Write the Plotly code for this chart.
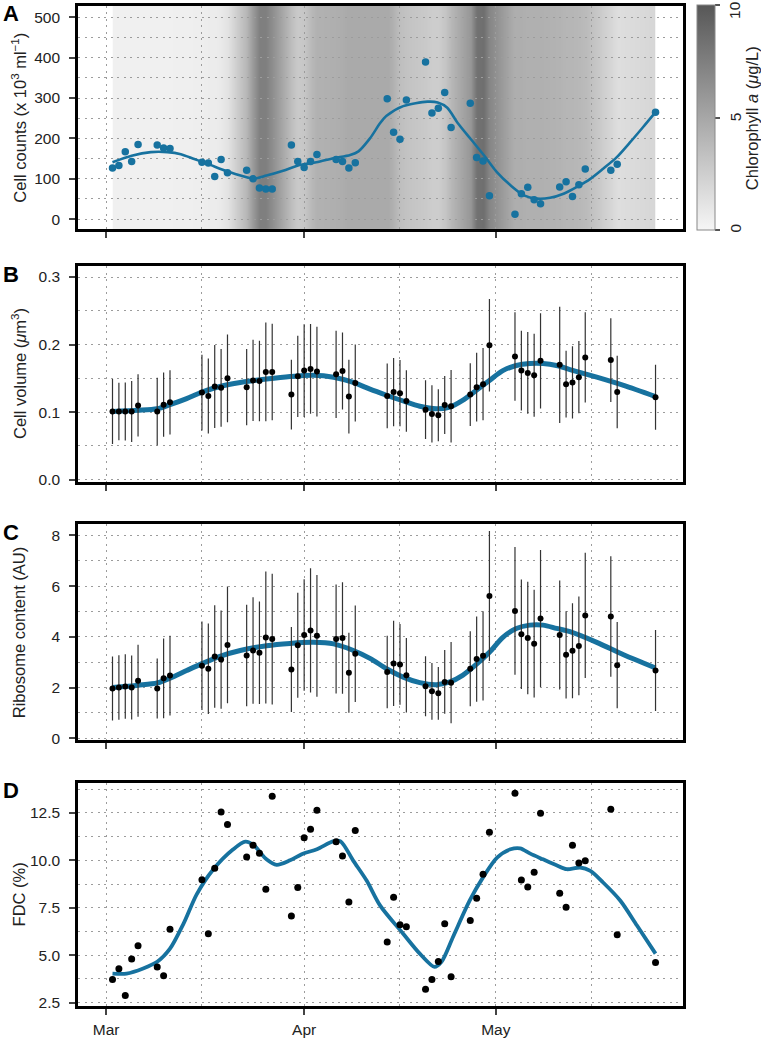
import plotly.graph_objects as go

# ---------------- data (x = days since 1 March) ----------------
days = [1, 2, 3, 4, 5, 8, 9, 10, 15, 16, 17, 18, 19, 22, 23, 24, 25, 26,
        29, 30, 31, 32, 33, 36, 37, 38, 39, 44, 45, 46, 47, 50, 51, 52, 53, 54,
        57, 58, 59, 60, 64, 65, 66, 67, 68, 71, 72, 73, 74, 75, 79, 80, 86]

cell_counts = [127, 133, 167, 143, 185, 184, 176, 175, 141, 139, 106, 148, 115,
               121, 100, 77, 75, 75, 184, 143, 128, 143, 160, 148, 143, 127, 140,
               298, 215, 198, 295, 389, 263, 275, 314, 227, 287, 153, 144, 58,
               12, 63, 79, 48, 38, 80, 93, 56, 85, 124, 121, 136, 265]

chlorophyll = [0.4, 0.4, 0.4, 0.4, 0.4, 0.4, 0.4, 0.4, 0.5, 0.6, 0.6, 0.8, 1.2,
               4.0, 6.0, 7.5, 7.5, 6.5, 3.5, 2.8, 3.0, 3.8, 4.3, 4.5, 4.6, 4.8, 4.8,
               4.8, 4.3, 3.5, 3.2, 2.8, 2.6, 2.6, 3.0, 4.0, 6.0, 8.3, 8.5, 7.0,
               4.5, 4.5, 4.4, 4.4, 4.4, 4.2, 4.0, 4.0, 3.9, 3.7, 2.0, 1.5, 2.0]

cell_volume = [0.101, 0.101, 0.101, 0.101, 0.110, 0.101, 0.111, 0.1145, 0.129, 0.124,
               0.138, 0.136, 0.150, 0.137, 0.147, 0.146, 0.1595, 0.1595, 0.126, 0.153,
               0.1615, 0.164, 0.160, 0.156, 0.161, 0.123, 0.143, 0.124, 0.1297, 0.128,
               0.1165, 0.1037, 0.0974, 0.0954, 0.1106, 0.1087, 0.126, 0.137, 0.1414,
               0.199, 0.1825, 0.1615, 0.158, 0.1546, 0.176, 0.170, 0.1414, 0.144,
               0.1517, 0.181, 0.177, 0.1297, 0.122]
cell_volume_sd = [0.048, 0.0425, 0.043, 0.045, 0.046, 0.050, 0.0475, 0.0475, 0.056,
                  0.0555, 0.0615, 0.0575, 0.065, 0.0565, 0.060, 0.0595, 0.073, 0.0715,
                  0.0515, 0.060, 0.0685, 0.0665, 0.0665, 0.0645, 0.057, 0.0545, 0.057,
                  0.048, 0.0505, 0.049, 0.0455, 0.0435, 0.0425, 0.0385, 0.043, 0.0535,
                  0.0465, 0.051, 0.0535, 0.0685, 0.0655, 0.059, 0.0605, 0.0615, 0.0705,
                  0.086, 0.0495, 0.0535, 0.0535, 0.0668, 0.0618, 0.0537, 0.048]

ribosome = [1.96, 2.0, 2.04, 2.0, 2.27, 1.96, 2.36, 2.47, 2.86, 2.74, 3.22, 3.10, 3.68,
            3.26, 3.46, 3.37, 3.97, 3.91, 2.71, 3.67, 4.07, 4.25, 4.04, 3.91, 3.95,
            2.58, 3.33, 2.61, 2.95, 2.91, 2.48, 2.05, 1.85, 1.77, 2.22, 2.19, 2.74,
            3.12, 3.25, 5.61, 5.02, 4.10, 3.95, 3.73, 4.72, 4.07, 3.29, 3.45, 3.64,
            4.84, 4.80, 2.88, 2.67]
ribosome_sd = [1.265, 1.27, 1.27, 1.265, 1.42, 1.185, 1.57, 1.57, 1.745, 1.785, 2.02,
               1.935, 2.30, 2.0, 2.1, 2.02, 2.6, 2.58, 1.68, 2.07, 2.2, 2.45, 2.4,
               2.15, 2.2, 1.58, 1.9, 1.43, 1.68, 1.59, 1.47, 1.18, 1.12, 1.04, 1.26,
               1.6, 1.48, 1.68, 1.76, 2.56, 2.52, 2.16, 2.22, 2.12, 2.7, 2.15, 1.72,
               1.87, 1.95, 2.47, 2.38, 1.7, 1.6]

fdc = [3.72, 4.28, 2.87, 4.80, 5.5, 4.38, 3.91, 6.37, 8.97, 6.13, 9.58, 12.55, 11.89,
       10.18, 10.80, 10.37, 8.47, 13.37, 7.06, 8.57, 11.19, 11.64, 12.64, 10.98, 10.23,
       7.80, 11.57, 5.69, 8.05, 6.6, 6.5, 3.2, 3.72, 4.66, 6.65, 3.86, 6.83, 8.0, 9.27,
       11.48, 13.53, 8.96, 8.59, 9.37, 12.48, 8.26, 7.53, 10.80, 9.86, 9.97, 12.69,
       6.08, 4.61]

# smoothed fits
fit_a_day = [1, 4, 7, 9.6, 11.7, 13.8, 15.9, 19, 22, 23, 25.1, 27.7, 30.3, 32.9, 35.6,
             38.2, 39.5, 41.3, 42.9, 43.9, 46.5, 50.3, 51.9, 53.4, 55, 57.1, 59.2, 61.2,
             63.3, 65.4, 67.4, 69.5, 71.6, 73.7, 75.8, 77.8, 79.9, 82, 84, 86]
fit_a = [141, 157, 166, 166, 161, 149, 137, 118, 104, 100, 108, 120, 134, 141, 151,
         159, 168, 200, 238, 256, 280, 291, 289, 276, 239, 198, 157, 116,
         84, 59, 51, 53, 63, 80, 100, 125, 153, 190, 227, 265]

fit_bc_day = [1, 5, 8, 10, 12.6, 15, 17.8, 21, 25.1, 28.8, 32.4, 35.6, 38.7, 41.3, 43.9,
              46.5, 49.1, 51.7, 53.8, 55.8, 57.9, 60, 62.1, 64.2, 66.3, 68.4, 70.5,
              72.6, 76.8, 81, 86]
fit_b = [0.101, 0.1027, 0.105, 0.111, 0.120, 0.1297, 0.138, 0.144, 0.149, 0.1527,
         0.1546, 0.1517, 0.144, 0.134, 0.125, 0.1165, 0.1087, 0.105, 0.1076, 0.1175,
         0.132, 0.147, 0.1615, 0.169, 0.172, 0.172, 0.169, 0.163, 0.1517, 0.1395, 0.123]
fit_c = [2.0, 2.09, 2.18, 2.37, 2.67, 2.94, 3.23, 3.46, 3.65, 3.74, 3.78, 3.72, 3.46,
         3.15, 2.74, 2.41, 2.19, 2.11, 2.22, 2.48, 2.9, 3.39, 3.98, 4.33, 4.46, 4.46,
         4.33, 4.2, 3.78, 3.29, 2.77]

fit_d_day = [1, 3.2, 5.8, 8, 10, 12.1, 14.2, 16.8, 19.9, 21.8, 23.1, 25.1, 26.7, 28.8,
             30.8, 33, 35.6, 36.7, 38.7, 40.8, 42.9, 46.5, 49.1, 51.4, 52.5, 54.3, 56.9,
             59, 61.2, 63.3, 64.8, 66.4, 68.4, 70.5, 72.1, 74.2, 75.8, 77.8, 80.5, 83.1, 86]
fit_d = [4.03, 4.03, 4.3, 4.65, 5.34, 6.65, 8.22, 9.53, 10.58, 10.98, 10.8, 10.05, 9.76,
         10.0, 10.35, 10.58, 11.01, 11.0, 9.97, 8.92, 7.61, 6.13, 5.08, 4.38, 4.65, 5.96,
         7.87, 9.1, 10.14, 10.58, 10.63, 10.35, 10.05, 9.74, 9.53, 9.62, 9.44, 8.83,
         7.87, 6.56, 5.08]

month_days = [0, 31, 61]
month_labels = ["Mar", "Apr", "May"]
mid_month_days = [15, 46, 76]
chl_ticks = [0, 5, 10]

# ---------------- styling ----------------
W, H = 761, 1042
BLUE = "#17729f"
FONT = "Liberation Sans, Arial, Helvetica, sans-serif"
GRID = "#9c9c9c"
GRID_DASH = "2px,4.5px"

def fx(p):
    return p / W

def fy(p):
    return 1 - p / H

panels = {  # pixel boxes: top, bottom
    "A": (6, 231),
    "B": (268, 485),
    "C": (528, 745),
    "D": (788, 1013),
}
BOX_L, BOX_R = 78, 683
x_dom = [fx(BOX_L), fx(BOX_R)]
x_range = [-4.4, 90.3]
px_per_day = (BOX_R - BOX_L) / (x_range[1] - x_range[0])
# chlorophyll strip spans from first to last sampling day
heat_dom = [fx(BOX_L + (days[0] - x_range[0]) * px_per_day),
            fx(BOX_L + (days[-1] - x_range[0]) * px_per_day)]
a_range = [-25.4, 528]

fig = go.Figure()

# Panel A background: chlorophyll (own hidden axes, drawn first)
fig.add_trace(go.Heatmap(
    x=days, y=[a_range[0] - 20, a_range[1] + 20], z=[chlorophyll, chlorophyll],
    zmin=0, zmax=10, zsmooth="best",
    colorscale=[[0, "#f6f6f6"], [1, "#575757"]],
    xaxis="x", yaxis="y",
    colorbar=dict(
        x=fx(697), xanchor="left", xref="paper",
        y=fy((6 + 231) / 2), yanchor="middle",
        len=225, lenmode="pixels", thickness=18, thicknessmode="pixels",
        tickvals=chl_ticks, showticklabels=False,
        ticks="outside", ticklen=5, tickcolor="#555", tickwidth=1.5,
        outlinecolor="#888", outlinewidth=1, ypad=0, xpad=0,
        title=dict(text=""),
    ),
    hoverinfo="skip",
))

# Panel A data
fig.add_trace(go.Scatter(x=fit_a_day, y=fit_a, mode="lines",
                         line=dict(color=BLUE, width=2.6, shape="spline", smoothing=0.8),
                         xaxis="x5", yaxis="y5", showlegend=False))
fig.add_trace(go.Scatter(x=days, y=cell_counts, mode="markers",
                         marker=dict(color=BLUE, size=7.5),
                         xaxis="x5", yaxis="y5", showlegend=False))

# Panel B
fig.add_trace(go.Scatter(x=fit_bc_day, y=fit_b, mode="lines",
                         line=dict(color=BLUE, width=5, shape="spline", smoothing=0.8),
                         xaxis="x2", yaxis="y2", showlegend=False))
fig.add_trace(go.Scatter(x=days, y=cell_volume, mode="markers",
                         error_y=dict(type="data", array=cell_volume_sd, width=0,
                                      thickness=1.2, color="#333"),
                         marker=dict(color="black", size=6),
                         xaxis="x2", yaxis="y2", showlegend=False))

# Panel C
fig.add_trace(go.Scatter(x=fit_bc_day, y=fit_c, mode="lines",
                         line=dict(color=BLUE, width=5, shape="spline", smoothing=0.8),
                         xaxis="x3", yaxis="y3", showlegend=False))
fig.add_trace(go.Scatter(x=days, y=ribosome, mode="markers",
                         error_y=dict(type="data", array=ribosome_sd, width=0,
                                      thickness=1.2, color="#333"),
                         marker=dict(color="black", size=6),
                         xaxis="x3", yaxis="y3", showlegend=False))

# Panel D
fig.add_trace(go.Scatter(x=fit_d_day, y=fit_d, mode="lines",
                         line=dict(color=BLUE, width=3.8, shape="spline", smoothing=0.8),
                         xaxis="x4", yaxis="y4", showlegend=False))
fig.add_trace(go.Scatter(x=days, y=fdc, mode="markers",
                         marker=dict(color="black", size=7),
                         xaxis="x4", yaxis="y4", showlegend=False))

tickfont = dict(family=FONT, size=15.5, color="#222")

def xaxis_cfg(labels, anchor):
    return dict(
        domain=x_dom, range=x_range, anchor=anchor,
        tickmode="array", tickvals=month_days, ticktext=month_labels,
        showticklabels=labels, ticks="outside", ticklen=6, tickwidth=2,
        tickcolor="#444", tickfont=tickfont, ticklabelstandoff=1,
        showline=True, mirror=True, linecolor="black", linewidth=2.6,
        showgrid=True, gridcolor=GRID, griddash=GRID_DASH, gridwidth=1,
        minor=dict(tickvals=mid_month_days, showgrid=True, gridcolor=GRID,
                   griddash=GRID_DASH, gridwidth=1, ticks=""),
        zeroline=False, fixedrange=True,
    )

def yaxis_cfg(name, rng, tickvals, ticktext, minor_vals, anchor):
    top, bot = panels[name]
    return dict(
        domain=[fy(bot), fy(top)], range=rng, anchor=anchor,
        tickmode="array", tickvals=tickvals, ticktext=ticktext,
        ticks="outside", ticklen=6, tickwidth=2, tickcolor="#444",
        tickfont=tickfont, ticklabelstandoff=6,
        showline=True, mirror=True, linecolor="black", linewidth=2.6,
        showgrid=True, gridcolor=GRID, griddash=GRID_DASH, gridwidth=1,
        minor=dict(tickvals=minor_vals, showgrid=True, gridcolor=GRID,
                   griddash=GRID_DASH, gridwidth=1, ticks=""),
        zeroline=False, fixedrange=True,
    )

a_major = [0, 100, 200, 300, 400, 500]
a_minor = [50, 150, 250, 350, 450]

fig.update_layout(
    width=W, height=H, margin=dict(l=0, r=0, t=0, b=0),
    paper_bgcolor="white", plot_bgcolor="rgba(0,0,0,0)", showlegend=False,
    font=dict(family=FONT, color="#222"),
    # hidden axes for the chlorophyll strip
    xaxis=dict(domain=heat_dom, range=[days[0], days[-1]], visible=False,
               anchor="y", fixedrange=True),
    yaxis=dict(domain=[fy(panels["A"][1]), fy(panels["A"][0])], range=a_range,
               visible=False, anchor="x", fixedrange=True),
    xaxis5=xaxis_cfg(False, "y5"),
    xaxis2=xaxis_cfg(False, "y2"),
    xaxis3=xaxis_cfg(False, "y3"),
    xaxis4=xaxis_cfg(True, "y4"),
    yaxis5=yaxis_cfg("A", a_range, a_major, [str(v) for v in a_major], a_minor, "x5"),
    yaxis2=yaxis_cfg("B", [-0.003, 0.316], [0, 0.1, 0.2, 0.3], ["0.0", "0.1", "0.2", "0.3"],
                     [0.05, 0.15, 0.25], "x2"),
    yaxis3=yaxis_cfg("C", [-0.07, 8.43], [0, 2, 4, 6, 8], ["0", "2", "4", "6", "8"],
                     [1, 3, 5, 7], "x3"),
    yaxis4=yaxis_cfg("D", [2.31, 14.09], [2.5, 5, 7.5, 10, 12.5],
                     ["2.5", "5.0", "7.5", "10.0", "12.5"], [3.75, 6.25, 8.75, 11.25, 13.75],
                     "x4"),
)

# annotations: panel letters, y titles, colorbar labels/title
ann = []
for name, (top, bot) in panels.items():
    ann.append(dict(text="<b>%s</b>" % name, x=fx(11), y=fy(top + 8), xref="paper",
                    yref="paper", xanchor="center", yanchor="middle", showarrow=False,
                    font=dict(family=FONT, size=22, color="black")))
titles = {
    "A": "Cell counts (x 10<sup>3</sup> ml<sup>\u22121</sup>)",
    "B": "Cell volume (<i>\u03bc</i>m<sup>3</sup>)",
    "C": "Ribosome content (AU)",
    "D": "FDC (%)",
}
for name, t in titles.items():
    top, bot = panels[name]
    ann.append(dict(text=t, x=fx(19), y=fy((top + bot) / 2), xref="paper", yref="paper",
                    xanchor="center", yanchor="middle", textangle=-90, showarrow=False,
                    font=dict(family=FONT, size=16.5, color="#222")))
cb_top, cb_bot = 6, 230
for v in chl_ticks:
    ypix = cb_bot - (cb_bot - cb_top) * v / 10
    ypix = max(ypix, 10)  # keep the top label inside the page
    ann.append(dict(text=str(v), x=fx(735), y=fy(ypix), xref="paper", yref="paper",
                    xanchor="center", yanchor="middle", textangle=-90, showarrow=False,
                    font=dict(family=FONT, size=15.5, color="#222")))
ann.append(dict(text="Chlorophyll <i>a</i> (<i>\u03bc</i>g/L)", x=fx(752), y=fy(119),
                xref="paper", yref="paper", xanchor="center", yanchor="middle",
                textangle=-90, showarrow=False,
                font=dict(family=FONT, size=16.5, color="#222")))
fig.update_layout(annotations=ann)

fig.write_html("out.html", config={"displayModeBar": False},
               post_script="document.body.style.margin='0';")
